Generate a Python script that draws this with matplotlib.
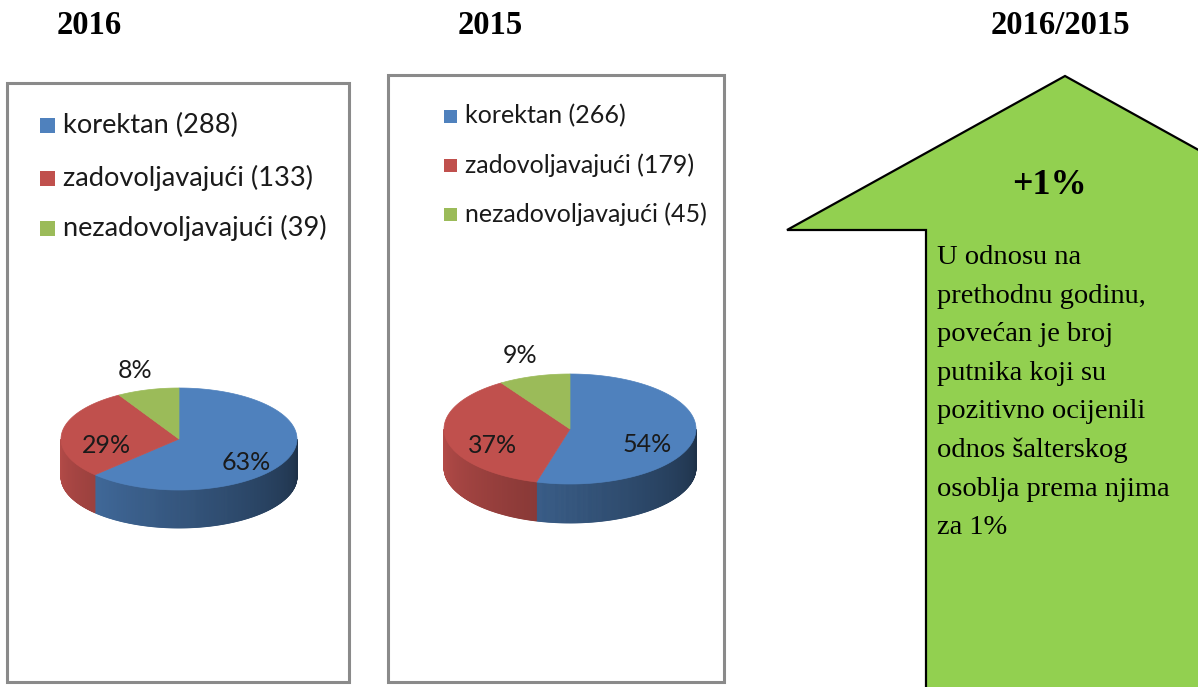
import numpy as np
import matplotlib
matplotlib.use("Agg")
import matplotlib.pyplot as plt
from matplotlib.patches import Polygon, Rectangle
from matplotlib.colors import to_rgb

# ---------------- data ----------------
titles = ["2016", "2015", "2016/2015"]
categories = ["korektan", "zadovoljavajući", "nezadovoljavajući"]
values_2016 = [288, 133, 39]
values_2015 = [266, 179, 45]
colors = ["#4F81BD", "#C0504D", "#9BBB59"]
change_label = "+1%"
note_lines = ["U odnosu na", "prethodnu godinu,", "povećan je broj",
              "putnika koji su", "pozitivno ocijenili", "odnos šalterskog",
              "osoblja prema njima", "za 1%"]

W, H = 1198, 687
fig = plt.figure(figsize=(W / 100, H / 100), dpi=100)
ax = fig.add_axes([0, 0, 1, 1])
ax.set_xlim(0, W)
ax.set_ylim(H, 0)
ax.axis("off")

SANS = "Lato"
SERIF = "Liberation Serif"


def shade(color, theta_deg):
    t = ((theta_deg % 360.0) - 180.0) / 180.0
    f = 0.95 - 0.57 * t
    r, g, b = to_rgb(color)
    return (r * f, g * f, b * f)


def pie3d(values, cx, cy, rx, ry, depth, fs):
    vals = np.asarray(values, float)
    frac = vals / vals.sum()
    cum = np.concatenate([[0], np.cumsum(frac)])
    starts = 90 - 360 * cum[:-1]
    ends = 90 - 360 * cum[1:]

    def rim(th):
        th = np.radians(th)
        return cx + rx * np.cos(th), cy - ry * np.sin(th)

    # sides
    for a0, a1, c in zip(starts, ends, colors):
        ths = np.linspace(a1, a0, max(int((a0 - a1) * 2), 2) + 1)
        for t1, t2 in zip(ths[:-1], ths[1:]):
            mid = 0.5 * (t1 + t2)
            if np.sin(np.radians(mid)) >= 0:
                continue
            x1, y1 = rim(t1)
            x2, y2 = rim(t2)
            col = shade(c, mid)
            ax.add_patch(Polygon([(x1, y1), (x2, y2), (x2, y2 + depth), (x1, y1 + depth)],
                                 closed=True, facecolor=col, edgecolor=col, lw=0.6, zorder=3))
    # tops
    for a0, a1, c in zip(starts, ends, colors):
        ths = np.linspace(a0, a1, 200)
        xs, ys = rim(ths)
        pts = [(cx, cy)] + list(zip(xs, ys))
        ax.add_patch(Polygon(pts, closed=True, facecolor=c, edgecolor=c, lw=0.5, zorder=4))
    # labels
    for a0, a1, f in zip(starts, ends, frac):
        mid = np.radians(0.5 * (a0 + a1))
        if f < 0.10:
            r = 1.4
            x = cx + r * rx * np.cos(mid)
            y = cy - r * ry * np.sin(mid)
        else:
            r = 0.62
            x = cx + r * rx * np.cos(mid)
            y = cy - r * ry * np.sin(mid) + 11
        ax.text(x, y, f"{round(f * 100):.0f}%", ha="center", va="center",
                fontsize=fs, family=SANS, color="#1a1a1a", zorder=6)


def legend(x_sq, ys, sq, x_txt, values, fs):
    for cat, v, c, y in zip(categories, values, colors, ys):
        ax.add_patch(Rectangle((x_sq, y - sq / 2), sq, sq, facecolor=c, edgecolor="none", zorder=5))
        ax.text(x_txt, y, f"{cat} ({v})", ha="left", va="center", fontsize=fs,
                family=SANS, color="#1a1a1a", zorder=5)


# ---------------- panel boxes ----------------
for (x0, y0, x1, y1) in [(7, 83, 349, 682), (388, 75, 724, 682)]:
    ax.add_patch(Rectangle((x0, y0), x1 - x0, y1 - y0, facecolor="white",
                           edgecolor="#8a8a8a", lw=2.2, zorder=1))

# ---------------- titles ----------------
for t, x in zip(titles, [89, 490, 1060]):
    ax.text(x, 26, t, ha="center", va="center", fontsize=23.5, family=SERIF,
            fontweight="bold", color="black")

# ---------------- legends & pies ----------------
legend(40, [125, 178, 228], 15, 63, values_2016, 19.6)
pie3d(values_2016, 179, 439, 118, 51, 38, 18)

legend(444, [116, 165, 214], 13, 465, values_2015, 18)
pie3d(values_2015, 570, 429, 126, 55, 39, 18)

# ---------------- arrow ----------------
tip = (1065, 76)
barb_l = (787, 230)
inner_l = (926, 230)
arrow = [barb_l, tip, (2 * tip[0] - barb_l[0], barb_l[1]), (2 * tip[0] - inner_l[0], inner_l[1]),
         (2 * tip[0] - inner_l[0], H + 20), (inner_l[0], H + 20), inner_l]
ax.add_patch(Polygon(arrow, closed=True, facecolor="#92D050", edgecolor="black",
                     lw=1.6, zorder=2, joinstyle="miter"))
ax.text(1049, 186, change_label, ha="center", va="center", fontsize=26, family=SERIF,
        fontweight="bold", color="black", zorder=5)
for i, line in enumerate(note_lines):
    ax.text(937, 264 + 38.6 * i, line, ha="left", va="baseline", fontsize=20.5,
            family=SERIF, color="black", zorder=5)

fig.savefig("out.png", dpi=100)
